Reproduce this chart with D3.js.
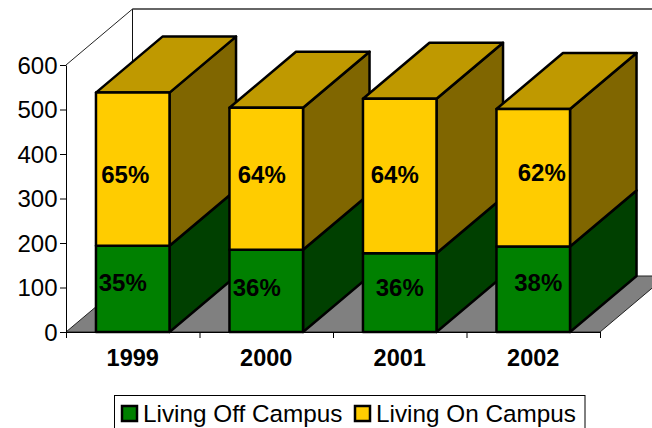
<!DOCTYPE html>
<html><head><meta charset="utf-8">
<script src="https://cdn.jsdelivr.net/npm/d3@7"></script>
<style>html,body{margin:0;padding:0;background:#fff}svg{display:block}text{font-family:"Liberation Sans",Arial,sans-serif}</style>
</head><body><svg id="c" width="652" height="428"></svg>
<script>
const years = ["1999","2000","2001","2002"];
const offCampus = [194,185,177,192];
const onCampus = [344,319,347,309];
const offLabels = ["35%","36%","36%","38%"];
const onLabels = ["65%","64%","64%","62%"];
const yTicks = [0,100,200,300,400,500,600];
const seriesNames = ["Living Off Campus","Living On Campus"];

const svg = d3.select("#c");
const x = d3.scaleBand().domain(years).range([66,600]).paddingInner(0.449).paddingOuter(0.2245);
const y = d3.scaleLinear().domain([0,600]).range([332,65]);
const DX = 66.5, DY = -56;
const line = d3.line();
const bk = ([a,b]) => [a+DX,b+DY];

// walls and floor
svg.append("path").attr("d", line([[66,332],[66+DX,332+DY],[600+DX,332+DY],[600,332]])+"Z")
   .attr("fill","#808080").attr("stroke","#222").attr("stroke-width",1);
svg.append("path").attr("d", line([[66,65],[66+DX,65+DY]])).attr("fill","none").attr("stroke","#222").attr("stroke-width",1);
svg.append("path").attr("d", line([[66+DX,65+DY],[66+DX,332+DY]])).attr("fill","none").attr("stroke","#111").attr("stroke-width",1);
svg.append("path").attr("d", line([[66+DX,65+DY],[652,65+DY]])).attr("fill","none").attr("stroke","#333").attr("stroke-width",1.5);

// bars
const colors = {
  off:{front:"#008000",side:"#004000",top:"#006000"},
  on:{front:"#FFCC00",side:"#806600",top:"#BF9900"}
};
function box(g,x0,x1,yb,yt,c,showTop){
  const sw=2.5;
  g.append("path").attr("d",line([[x1,yb],bk([x1,yb]),bk([x1,yt]),[x1,yt]])+"Z")
    .attr("fill",c.side).attr("stroke","#000").attr("stroke-width",sw).attr("stroke-linejoin","round");
  if(showTop) g.append("path").attr("d",line([[x0,yt],bk([x0,yt]),bk([x1,yt]),[x1,yt]])+"Z")
    .attr("fill",c.top).attr("stroke","#000").attr("stroke-width",sw).attr("stroke-linejoin","round");
  g.append("path").attr("d",line([[x0,yb],[x1,yb],[x1,yt],[x0,yt]])+"Z")
    .attr("fill",c.front).attr("stroke","#000").attr("stroke-width",sw).attr("stroke-linejoin","round");
}
years.forEach((yr,i)=>{
  const g = svg.append("g");
  const x0=x(yr), x1=x0+x.bandwidth();
  box(g,x0,x1,y(0),y(offCampus[i]),colors.off,false);
  box(g,x0,x1,y(offCampus[i]),y(offCampus[i]+onCampus[i]),colors.on,true);
});

// axes
const ya = d3.axisLeft(y).tickValues(yTicks).tickSize(6).tickSizeOuter(0);
const yg = svg.append("g").attr("transform","translate(66,0)").call(ya);
yg.select(".domain").attr("stroke","#000").attr("stroke-width",1);
yg.selectAll("line").attr("stroke","#000");
yg.selectAll("text").attr("font-size",24).attr("font-family","Liberation Sans").attr("fill","#000").attr("x",-8.5).attr("dy","0.34em");

const xEdge = d3.scaleLinear().domain([0,years.length]).range([66,600]);
const xa = d3.axisBottom(xEdge).tickValues(d3.range(0,years.length+1)).tickSize(6).tickSizeOuter(0).tickFormat("");
const xg = svg.append("g").attr("transform","translate(0,332)").call(xa);
xg.select(".domain").attr("stroke","#000");
xg.selectAll("line").attr("stroke","#000");
svg.selectAll(".cat").data(years).join("text").attr("class","cat")
  .attr("x",d=>x(d)+x.bandwidth()/2).attr("y",366).attr("text-anchor","middle")
  .attr("font-size",23.5).attr("font-weight","bold").attr("fill","#000").text(d=>d);

// data labels, nudged as in the reference
const onNudge = [[-7.5,0],[-4.5,0],[-5,0],[8.5,-2]];
const offNudge = [[-10,-5],[-9.5,0],[0,0],[5,-5]];
const onRef = 175, offRef = 288;
function labels(arr,nudge,ref){
  svg.selectAll(null).data(arr).join("text")
   .attr("x",(d,i)=>x(years[i])+x.bandwidth()/2+nudge[i][0])
   .attr("y",(d,i)=>ref+nudge[i][1]).attr("dy","0.34em").attr("text-anchor","middle")
   .attr("font-size",24).attr("font-weight","bold").attr("fill","#000").text(d=>d);
}
labels(onLabels,onNudge,onRef);
labels(offLabels,offNudge,offRef);

// legend
svg.append("rect").attr("x",114.5).attr("y",395.5).attr("width",470.5).attr("height",40).attr("fill","#fff").attr("stroke","#000");
const legendX=[122,355];
seriesNames.forEach((n,i)=>{
  svg.append("rect").attr("x",legendX[i]).attr("y",406).attr("width",15).attr("height",15)
    .attr("fill",i?colors.on.front:colors.off.front).attr("stroke","#000").attr("stroke-width",2.5);
  svg.append("text").attr("x",legendX[i]+21).attr("y",421.5).attr("font-size",24.3).attr("fill","#000").text(n);
});
</script></body></html>
